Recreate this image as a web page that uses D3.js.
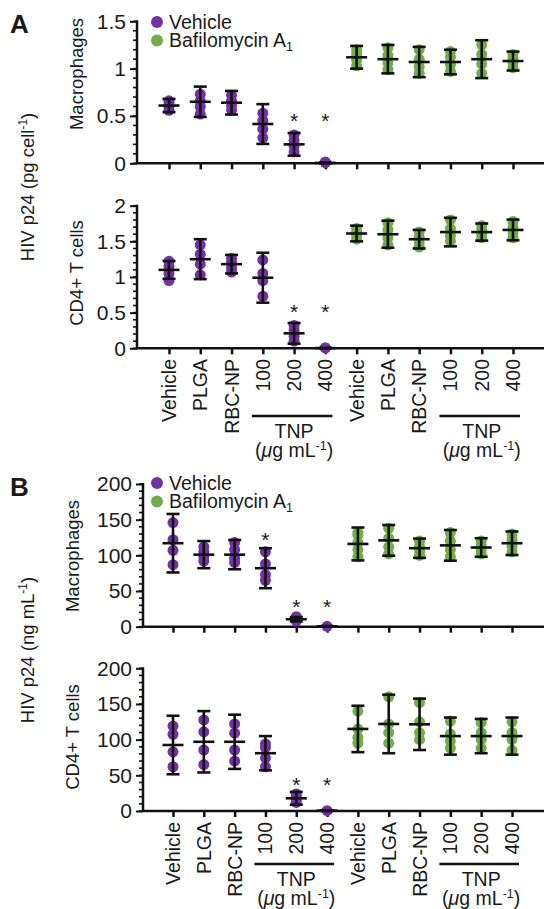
<!DOCTYPE html>
<html><head><meta charset="utf-8">
<script src="https://cdn.jsdelivr.net/npm/d3@7"></script>
<style>
html,body{margin:0;padding:0;background:#fff;}
svg text{font-family:Arial,"Liberation Sans",sans-serif;fill:#1a1a1a;}
</style></head>
<body>
<svg id="c" width="544" height="909"></svg>
<script>
// ---------- DATA ----------
const categories = ["Vehicle","PLGA","RBC-NP","100","200","400","Vehicle","PLGA","RBC-NP","100","200","400"];
const treatment = ["Vehicle","Vehicle","Vehicle","Vehicle","Vehicle","Vehicle",
  "Bafilomycin","Bafilomycin","Bafilomycin","Bafilomycin","Bafilomycin","Bafilomycin"];
const legendLabels = ["Vehicle","Bafilomycin A"];

// Panel A, macrophages (pg cell-1)
const aMacMean = [0.61,0.65,0.64,0.415,0.20,0.004,1.12,1.10,1.07,1.07,1.10,1.08];
const aMacSD   = [0.07,0.16,0.125,0.21,0.12,0.004,0.12,0.15,0.16,0.13,0.20,0.10];
const aMacPts  = [[0.56,0.60,0.63,0.66],[0.52,0.60,0.66,0.73],[0.56,0.61,0.66,0.72],[0.27,0.36,0.45,0.53],
  [0.12,0.18,0.24,0.30],[0.01,0.01,0.01],[1.03,1.09,1.15,1.20],[0.99,1.06,1.14,1.22],[0.95,1.02,1.10,1.20],
  [0.97,1.04,1.12,1.18],[0.95,1.05,1.15,1.25],[1.01,1.06,1.11,1.15]];
const aMacStar = [null,null,null,null,0.47,0.47,null,null,null,null,null,null];

// Panel A, CD4+ T cells (pg cell-1)
const aTMean = [1.10,1.25,1.18,0.99,0.21,0.003,1.61,1.60,1.53,1.63,1.63,1.66];
const aTSD   = [0.125,0.28,0.13,0.35,0.145,0.003,0.11,0.19,0.13,0.20,0.12,0.145];
const aTPts  = [[0.95,1.05,1.15,1.22],[1.03,1.18,1.32,1.45],[1.07,1.13,1.20,1.26],[0.73,0.95,1.05,1.24],
  [0.10,0.17,0.25,0.32],[0.005,0.005],[1.53,1.58,1.63,1.68],[1.45,1.55,1.66,1.76],[1.42,1.48,1.56,1.63],
  [1.50,1.58,1.68,1.80],[1.55,1.60,1.66,1.72],[1.55,1.62,1.70,1.78]];
const aTStar = [null,null,null,null,0.54,0.54,null,null,null,null,null,null];

// Panel B, macrophages (ng mL-1)
const bMacMean = [117,101,101,82,10.5,0.5,116,121,110,114,111,117];
const bMacSD   = [41,19,20.5,28,3,0.5,23,21.5,13.5,21.5,13,16.5];
const bMacPts  = [[87,107,122,146],[92,98,105,112],[90,96,108,118],[65,73,88,105],[8,10,12,14],[0.5],
  [98,108,118,128,132],[102,112,124,138],[100,106,113,120],[98,108,120,132],[102,108,114,120],[105,113,122,130]];
const bMacStar = [null,null,null,124,30,30,null,null,null,null,null,null];

// Panel B, CD4+ T cells (ng mL-1)
const bTMean = [92.5,97,97,81,17.8,0.5,115,122,121.5,105,105,105];
const bTSD   = [41,43,38,24,9,0.5,32.5,41,36,26,24,26];
const bTPts  = [[62,83,107.5,119],[65,85.5,111,127.6],[70,85.5,109,122],[62,74,89,94],[12,16,20,24],[0.5],
  [95,103,115,140],[95,110,122,160],[100,110,125,152],[88,98,108,126],[88,100,110,124],[85,100,110,125]];
const bTStar = [null,null,null,null,39,39,null,null,null,null,null,null];

const aTicksTop = [0,0.5,1,1.5];
const aTicksBot = [0,0.5,1,1.5,2];
const bTicks = [0,50,100,150,200];

// ---------- DRAW ----------
const svg = d3.select("#c");
const color = d3.scaleOrdinal().domain(["Vehicle","Bafilomycin"]).range(["#7332a3","#72ad4a"]);
const idx = d3.range(categories.length);

function panel(o){
  const x = d3.scalePoint().domain(idx).range(o.xr);
  const y = d3.scaleLinear().domain(o.ydom).range(o.yr);
  const g = svg.append("g");
  const ya = d3.axisLeft(y).tickValues(o.ticks).tickFormat(d3.format("~g")).tickSize(7).tickPadding(4);
  const yg = g.append("g").attr("transform",`translate(${o.ax},0)`).call(ya);
  yg.select(".domain").remove();
  yg.selectAll(".tick line").attr("stroke","#111").attr("stroke-width",2);
  yg.selectAll(".tick text").attr("font-size",21).attr("fill","#1a1a1a")
    .style("font-family","Arial, 'Liberation Sans', sans-serif");
  const minor = d3.range(o.ydom[0], o.ydom[1]+o.minor/2, o.minor);
  g.append("g").selectAll("line").data(minor).join("line")
    .attr("x1",o.ax-4).attr("x2",o.ax).attr("y1",d=>y(d)).attr("y2",d=>y(d))
    .attr("stroke","#111").attr("stroke-width",1.6);
  g.append("line").attr("x1",o.ax).attr("x2",o.ax).attr("y1",y(o.ydom[0])).attr("y2",y(o.ydom[1])-1)
    .attr("stroke","#111").attr("stroke-width",2.5);
  const xa = d3.axisBottom(x).tickFormat("").tickSize(6).tickSizeOuter(0);
  const xg = g.append("g").attr("transform",`translate(0,${y(0)})`).call(xa);
  xg.select(".domain").attr("d",`M${o.ax},0H544`).attr("stroke","#111").attr("stroke-width",2.5);
  xg.selectAll(".tick line").attr("stroke","#111").attr("stroke-width",2.5);
  const pts = [];
  o.pts.forEach((arr,i)=>arr.forEach(v=>pts.push({i,v})));
  g.append("g").selectAll("circle").data(pts).join("circle")
    .attr("cx",d=>x(d.i)).attr("cy",d=>y(d.v)).attr("r",5.5)
    .attr("fill",d=>color(treatment[d.i]));
  const eb = g.append("g").attr("stroke","#111").attr("stroke-width",2.6).attr("fill","none");
  idx.forEach(i=>{
    const cx = x(i), m=o.mean[i], s=o.sd[i];
    eb.append("line").attr("x1",cx).attr("x2",cx).attr("y1",y(m+s)).attr("y2",y(Math.max(0,m-s)));
    eb.append("line").attr("x1",cx-6.5).attr("x2",cx+6.5).attr("y1",y(m+s)).attr("y2",y(m+s));
    eb.append("line").attr("x1",cx-6.5).attr("x2",cx+6.5).attr("y1",y(Math.max(0,m-s))).attr("y2",y(Math.max(0,m-s)));
    eb.append("line").attr("x1",cx-10.5).attr("x2",cx+10.5).attr("y1",y(m)).attr("y2",y(m));
  });
  g.append("g").selectAll("text").data(idx.filter(i=>o.star[i]!=null)).join("text")
    .attr("x",i=>x(i)).attr("y",i=>y(o.star[i])+9).attr("text-anchor","middle")
    .attr("font-size",21).text("*");
  g.append("text").attr("transform",`translate(${o.lx},${o.ly}) rotate(-90)`)
    .attr("text-anchor","middle").attr("font-size",18.5).text(o.label);
  return {x,y};
}

function legend(x0,y0){
  const lg = svg.append("g");
  ["Vehicle","Bafilomycin"].forEach((k,j)=>{
    lg.append("circle").attr("cx",x0).attr("cy",y0+j*18.5).attr("r",6).attr("fill",color(k));
    const t = lg.append("text").attr("x",x0+12).attr("y",y0+j*18.5+6.5).attr("font-size",19.5);
    t.append("tspan").text(legendLabels[j]);
    if(j===1) t.append("tspan").attr("font-size",12.5).attr("dy",4).text("1");
  });
}

function xLabels(x, yTop, lineY){
  const lg = svg.append("g");
  lg.selectAll("text.cat").data(idx).join("text").attr("class","cat")
    .attr("transform",i=>`translate(${x(i)+7},${yTop}) rotate(-90)`)
    .attr("text-anchor","end").attr("font-size",19.5).text(i=>categories[i]);
  [[3,5],[9,11]].forEach(([a,b])=>{
    const x1 = x(a)-11, x2 = x(b)+7;
    lg.append("line").attr("x1",x1).attr("x2",x2).attr("y1",lineY).attr("y2",lineY)
      .attr("stroke","#111").attr("stroke-width",2.5);
    const cx = (x(a)+x(b))/2;
    lg.append("text").attr("x",cx).attr("y",lineY+22).attr("text-anchor","middle").attr("font-size",19.5).text("TNP");
    const t = lg.append("text").attr("x",cx).attr("y",lineY+41).attr("text-anchor","middle").attr("font-size",19.5);
    t.append("tspan").text("(");
    t.append("tspan").attr("font-style","italic").text("\u03bc");
    t.append("tspan").text("g mL");
    t.append("tspan").attr("font-size",12.5).attr("dy",-7).text("-1");
    t.append("tspan").attr("dy",7).text(")");
  });
}

function unitLabel(x,y,main){
  const t = svg.append("text").attr("transform",`translate(${x},${y}) rotate(-90)`)
    .attr("text-anchor","middle").attr("font-size",18.5);
  t.append("tspan").text(main);
  t.append("tspan").attr("font-size",12).attr("dy",-7).text("-1");
  t.append("tspan").attr("dy",7).text(")");
}

// Panel A
const pA1 = panel({xr:[169,513], yr:[163.3,21.3], ydom:[0,1.5], ax:137, ticks:aTicksTop, minor:0.1,
  mean:aMacMean, sd:aMacSD, pts:aMacPts, star:aMacStar, label:"Macrophages", lx:83, ly:74});
const pA2 = panel({xr:[169,513], yr:[348.3,205.7], ydom:[0,2], ax:137, ticks:aTicksBot, minor:0.1,
  mean:aTMean, sd:aTSD, pts:aTPts, star:aTStar, label:"CD4+ T cells", lx:83, ly:273});
legend(157,22);
xLabels(pA2.x, 359, 416);
svg.append("text").attr("x",10).attr("y",33).attr("font-size",26).attr("font-weight","bold").text("A");
unitLabel(34,187,"HIV p24 (pg cell");

// Panel B
const pB1 = panel({xr:[173,512], yr:[626.7,484], ydom:[0,200], ax:143, ticks:bTicks, minor:10,
  mean:bMacMean, sd:bMacSD, pts:bMacPts, star:bMacStar, label:"Macrophages", lx:79, ly:556});
const pB2 = panel({xr:[173,512], yr:[811,668.3], ydom:[0,200], ax:143, ticks:bTicks, minor:10,
  mean:bTMean, sd:bTSD, pts:bTPts, star:bTStar, label:"CD4+ T cells", lx:79, ly:737});
legend(157,483);
xLabels(pB2.x, 822, 864);
svg.append("text").attr("x",10).attr("y",496).attr("font-size",26).attr("font-weight","bold").text("B");
unitLabel(34,650,"HIV p24 (ng mL");
</script>
</body></html>
